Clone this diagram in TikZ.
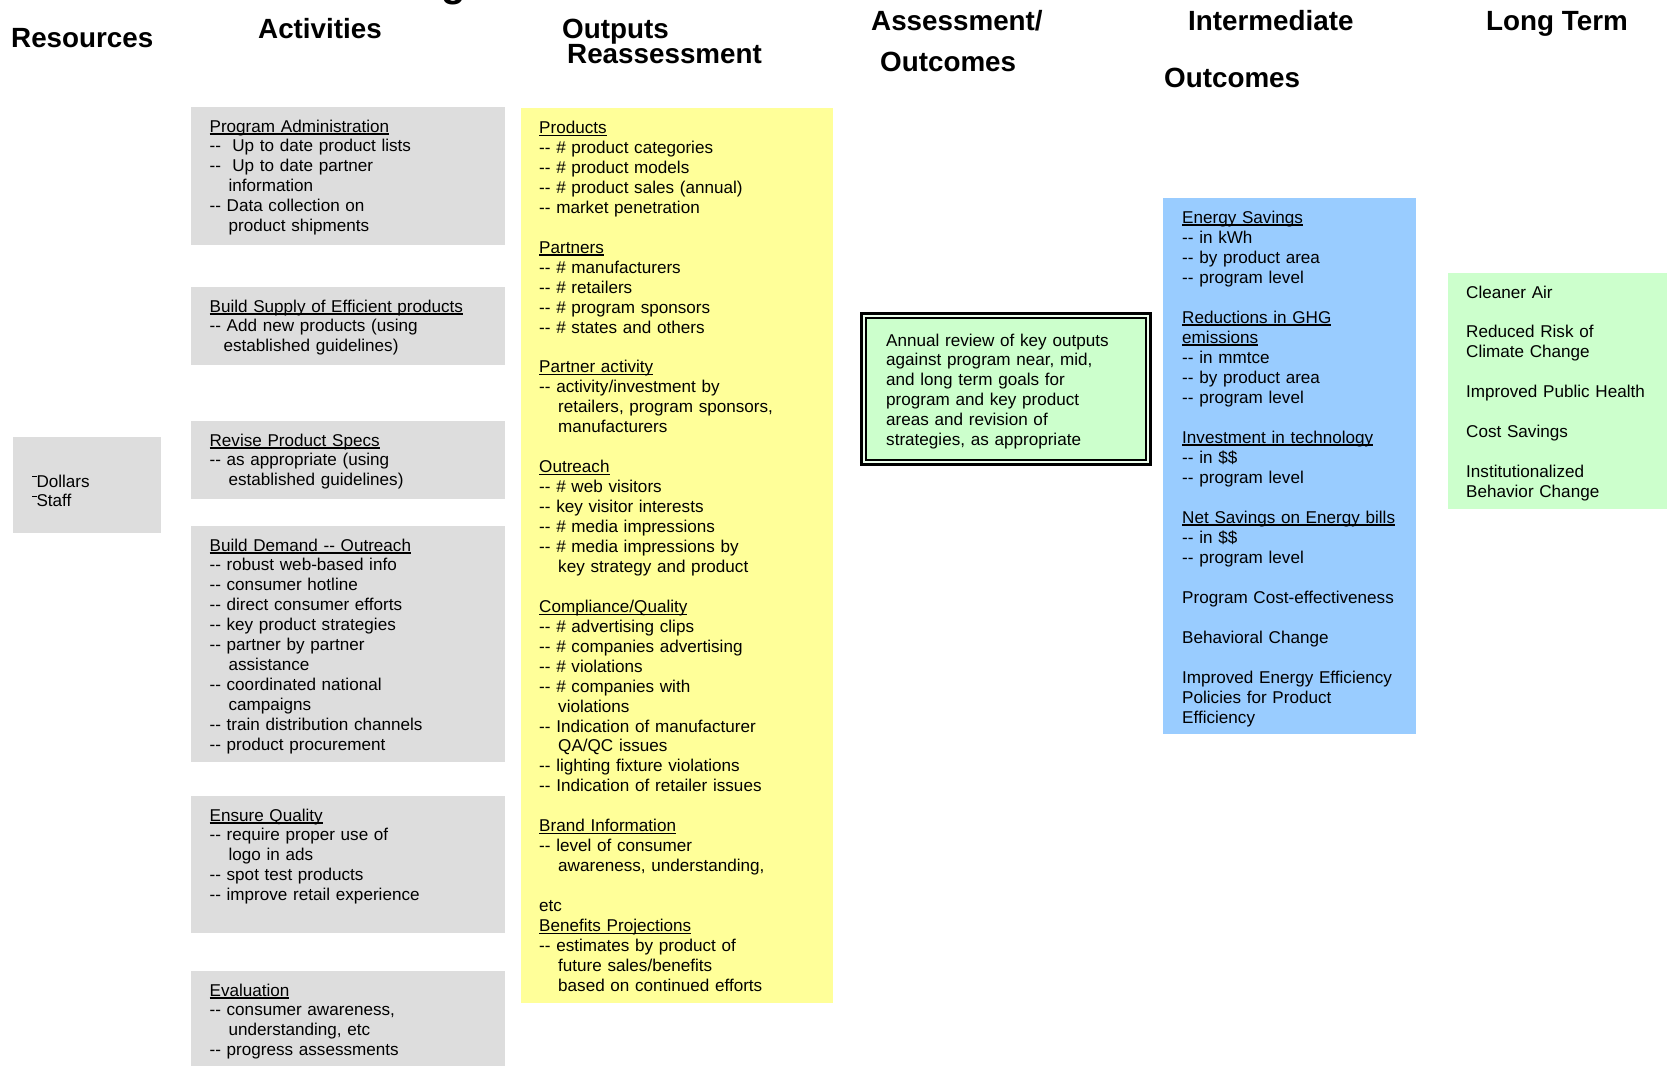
\documentclass[tikz,border=0pt]{standalone}
\usepackage{fontspec}
\newfontfamily\lsans{Liberation Sans}

\definecolor{actgray}{HTML}{DDDDDD}
\definecolor{outyellow}{HTML}{FFFF99}
\definecolor{midblue}{HTML}{99CCFF}
\definecolor{longgreen}{HTML}{CCFFCC}
\definecolor{revgap}{HTML}{EEFFEE}

% underlined heading inside a box
\newcommand{\ulh}[1]{\leavevmode\setbox0\hbox{#1}\rlap{\rule[-2.5pt]{\wd0}{1.3pt}}\box0}
% indent for a wrapped line
\newcommand{\ind}{\hspace*{19pt}}
% small raised dash before the resources
\newcommand{\rdash}{\raisebox{10pt}{\rule{4.3pt}{1.2pt}}}

\begin{document}
\begin{tikzpicture}[x=1pt,y=-1pt,
    box/.style={anchor=north west,inner sep=0pt,outer sep=0pt},
    actbox/.style={box,fill=actgray,minimum width=314pt},
    txt/.style={anchor=base west,inner sep=0pt,align=left,text width=300pt,font=\lsans\fontsize{17.1}{19.95}\selectfont},
    head/.style={anchor=base west,inner sep=0pt,font=\lsans\bfseries\fontsize{27.8}{30}\selectfont}]
    \useasboundingbox (0,0) rectangle (1667,1065);

    % column heads
    \node[head,font=\lsans\bfseries\fontsize{40}{40}\selectfont] (ttl) at (441,-3.5) {g};
    \node[head] (hres) at (11,47.3) {Resources};
    \node[head] (hact) at (258,38.8) {Activities};
    \node[head] (hout) at (562,38.8) {Outputs};
    \node[head] (hreas) at (567,63.8) {Reassessment};
    \node[head] (hass) at (871,31) {Assessment/};
    \node[head] (hasso) at (880,71) {Outcomes};
    \node[head] (hint) at (1188,31) {Intermediate};
    \node[head] (hinto) at (1164,87.2) {Outcomes};
    \node[head] (hlong) at (1486,31) {Long Term};

    % resources
    \node[box,fill=actgray,minimum width=147.7pt,minimum height=96pt] (res) at (13,437) {};
    \node[txt] (restxt) at ([shift={(19,50)}]res.north west) {\rdash Dollars\\ \rdash Staff};

    % activities
    \node[actbox,minimum height=138pt] (adm) at (191,107) {};
    \node[actbox,minimum height=78pt] (sup) at (191,287) {};
    \node[actbox,minimum height=78pt] (spec) at (191,421) {};
    \node[actbox,minimum height=236pt] (dem) at (191,526) {};
    \node[actbox,minimum height=137pt] (qual) at (191,796) {};
    \node[actbox,minimum height=110pt] (eval) at (191,971) {};

    \node[txt] (admtxt) at ([shift={(18.4,25)}]adm.north west) {\ulh{Program Administration}\\
        --~ Up to date product lists\\ --~ Up to date partner\\ \ind information\\
        -- Data collection on\\ \ind product shipments};
    \node[txt] (suptxt) at ([shift={(18.4,25)}]sup.north west) {\ulh{Build Supply of Efficient products}\\
        -- Add new products (using\\ \hspace*{14pt}established guidelines)};
    \node[txt] (spectxt) at ([shift={(18.4,25)}]spec.north west) {\ulh{Revise Product Specs}\\
        -- as appropriate (using\\ \ind established guidelines)};
    \node[txt] (demtxt) at ([shift={(18.4,25)}]dem.north west) {\ulh{Build Demand -- Outreach}\\
        -- robust web-based info\\ -- consumer hotline\\ -- direct consumer efforts\\
        -- key product strategies\\ -- partner by partner\\ \ind assistance\\
        -- coordinated national\\ \ind campaigns\\ -- train distribution channels\\
        -- product procurement};
    \node[txt] (qualtxt) at ([shift={(18.4,25)}]qual.north west) {\ulh{Ensure Quality}\\
        -- require proper use of\\ \ind logo in ads\\ -- spot test products\\
        -- improve retail experience};
    \node[txt] (evaltxt) at ([shift={(18.4,25)}]eval.north west) {\ulh{Evaluation}\\
        -- consumer awareness,\\ \ind understanding, etc\\ -- progress assessments};

    % outputs
    \node[box,fill=outyellow,minimum width=312pt,minimum height=895pt] (outp) at (521,108) {};
    \node[txt] (outptxt) at ([shift={(18,25.5)}]outp.north west) {\ulh{Products}\\
        -- \# product categories\\ -- \# product models\\ -- \# product sales (annual)\\
        -- market penetration\\[19.95pt]
        \ulh{Partners}\\ -- \# manufacturers\\ -- \# retailers\\ -- \# program sponsors\\
        -- \# states and others\\[19.95pt]
        \ulh{Partner activity}\\ -- activity/investment by\\ \ind retailers, program sponsors,\\
        \ind manufacturers\\[19.95pt]
        \ulh{Outreach}\\ -- \# web visitors\\ -- key visitor interests\\ -- \# media impressions\\
        -- \# media impressions by\\ \ind key strategy and product\\[19.95pt]
        \ulh{Compliance/Quality}\\ -- \# advertising clips\\ -- \# companies advertising\\
        -- \# violations\\ -- \# companies with\\ \ind violations\\
        -- Indication of manufacturer\\ \ind QA/QC issues\\ -- lighting fixture violations\\
        -- Indication of retailer issues\\[19.95pt]
        \ulh{Brand Information}\\ -- level of consumer\\ \ind awareness, understanding,\\[19.95pt]
        etc\\ \ulh{Benefits Projections}\\ -- estimates by product of\\ \ind future sales/benefits\\
        \ind based on continued efforts};

    % assessment
    \node[box,fill=longgreen,draw=black,line width=2.5pt,double=revgap,double distance=2pt,
        minimum width=284.7pt,minimum height=146.7pt] (rev) at (863.5,315.5) {};
    \node[txt] (revtxt) at ([shift={(22.5,30.5)}]rev.north west) {Annual review of key outputs\\
        against program near, mid,\\ and long term goals for\\ program and key product\\
        areas and revision of\\ strategies, as appropriate};

    % intermediate outcomes
    \node[box,fill=midblue,minimum width=253pt,minimum height=536pt] (mid) at (1163,197.5) {};
    \node[txt,font=\lsans\fontsize{17.1}{20}\selectfont] (midtxt) at ([shift={(19,25.5)}]mid.north west) {\ulh{Energy Savings}\\
        -- in kWh\\ -- by product area\\ -- program level\\[20pt]
        \ulh{Reductions in GHG}\\ \ulh{emissions}\\ -- in mmtce\\ -- by product area\\
        -- program level\\[20pt]
        \ulh{Investment in technology}\\ -- in \$\$\\ -- program level\\[20pt]
        \ulh{Net Savings on Energy bills}\\ -- in \$\$\\ -- program level\\[20pt]
        Program Cost-effectiveness\\[20pt]
        Behavioral Change\\[20pt]
        Improved Energy Efficiency\\ Policies for Product\\ Efficiency};

    % long term outcomes
    \node[box,fill=longgreen,minimum width=230pt,minimum height=236pt] (lt) at (1448,273) {};
    \node[txt] (lttxt) at ([shift={(18,25)}]lt.north west) {Cleaner Air\\[19.95pt]
        Reduced Risk of\\ Climate Change\\[19.95pt]
        Improved Public Health\\[19.95pt]
        Cost Savings\\[19.95pt]
        Institutionalized\\ Behavior Change};
\end{tikzpicture}
\end{document}
